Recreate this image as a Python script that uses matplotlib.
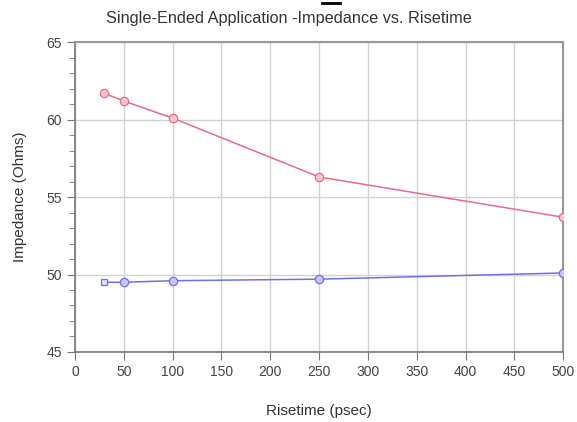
import matplotlib
matplotlib.use("Agg")
import matplotlib.pyplot as plt
from matplotlib.ticker import MultipleLocator

plt.rcParams['font.family'] = ['Liberation Sans', 'DejaVu Sans']

# Risetime (psec)
risetime = [30, 50, 100, 250, 500]
# Impedance (Ohms)
imp_red = [61.7, 61.2, 60.1, 56.3, 53.7]
imp_blue = [49.5, 49.5, 49.6, 49.7, 50.1]

xticks = [0, 50, 100, 150, 200, 250, 300, 350, 400, 450, 500]
yticks = [45, 50, 55, 60, 65]

fig = plt.figure(figsize=(5.77, 4.22), dpi=100)
ax = fig.add_axes([0.130, 0.166, 0.846, 0.734])

ax.grid(True, color='#d2d2d2', linewidth=1.0)
ax.set_axisbelow(True)

red = '#ea6a84'
blue = '#7070ea'
ax.plot(risetime, imp_red, color=red, linewidth=1.1, zorder=3)
ax.plot(risetime, imp_red, linestyle='none', marker='o', markersize=6,
        markerfacecolor='#f8c6d0', markeredgecolor=red, markeredgewidth=0.9, zorder=4)
ax.plot(risetime, imp_blue, color=blue, linewidth=1.1, zorder=3)
ax.plot(risetime[:1], imp_blue[:1], linestyle='none', marker='s', markersize=5,
        markerfacecolor='#e0e0fb', markeredgecolor=blue, markeredgewidth=0.9, zorder=4)
ax.plot(risetime[1:], imp_blue[1:], linestyle='none', marker='o', markersize=6,
        markerfacecolor='#c6c6f7', markeredgecolor=blue, markeredgewidth=0.9, zorder=4)

ax.set_xlim(0, 500)
ax.set_ylim(45, 65)
ax.set_xticks(xticks)
ax.set_yticks(yticks)
ax.yaxis.set_minor_locator(MultipleLocator(1))
ax.tick_params(axis='both', which='major', direction='out', length=6,
               color='#777777', labelsize=10, labelcolor='#444444')
ax.tick_params(axis='y', which='minor', direction='out', length=4, color='#777777')

for side in ['left', 'bottom']:
    ax.spines[side].set_color('#777777')
    ax.spines[side].set_linewidth(1.2)
for side in ['top', 'right']:
    ax.spines[side].set_color('#999999')
    ax.spines[side].set_linewidth(1.5)

ax.set_xlabel('Risetime (psec)', fontsize=11, color='#333333', labelpad=18)
ax.set_ylabel('Impedance (Ohms)', fontsize=11, color='#333333', labelpad=14)
fig.text(0.50, 0.955, 'Single-Ended Application -Impedance vs. Risetime',
         ha='center', va='center', fontsize=11.7, color='#333333')
fig.add_artist(plt.Line2D([0.558, 0.590], [0.994, 0.994], color='black', linewidth=2))

fig.savefig('out.png', dpi=100)
